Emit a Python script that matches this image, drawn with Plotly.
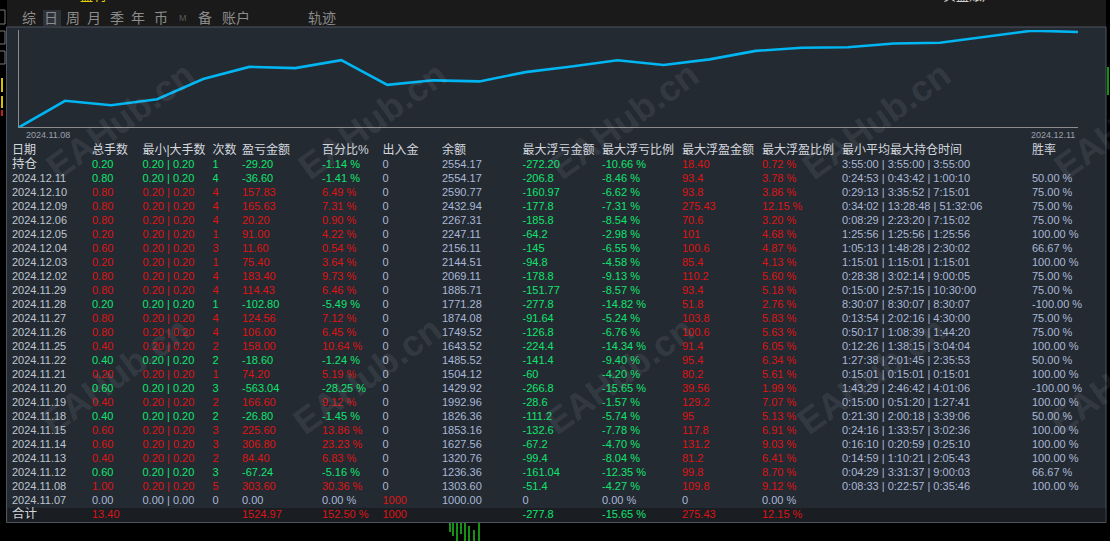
import plotly.graph_objects as go

W, H = 1110, 541

# ---------------- data ----------------
row_labels = ["持仓", "2024.12.11", "2024.12.10", "2024.12.09", "2024.12.06", "2024.12.05",
              "2024.12.04", "2024.12.03", "2024.12.02", "2024.11.29", "2024.11.28", "2024.11.27",
              "2024.11.26", "2024.11.25", "2024.11.22", "2024.11.21", "2024.11.20", "2024.11.19",
              "2024.11.18", "2024.11.15", "2024.11.14", "2024.11.13", "2024.11.12", "2024.11.08",
              "2024.11.07"]
lots = [0.20, 0.80, 0.80, 0.80, 0.80, 0.20, 0.60, 0.20, 0.80, 0.80, 0.20, 0.80, 0.80,
        0.40, 0.40, 0.20, 0.60, 0.40, 0.40, 0.60, 0.60, 0.40, 0.60, 1.00, 0.00]
min_lot = [0.20] * 24 + [0.00]
max_lot = [0.20] * 24 + [0.00]
trades = [1, 4, 4, 4, 4, 1, 3, 1, 4, 4, 1, 4, 4, 2, 2, 1, 3, 2, 2, 3, 3, 2, 3, 5, 0]
profit = [-29.20, -36.60, 157.83, 165.63, 20.20, 91.00, 11.60, 75.40, 183.40, 114.43,
          -102.80, 124.56, 106.00, 158.00, -18.60, 74.20, -563.04, 166.60, -26.80, 225.60,
          306.80, 84.40, -67.24, 303.60, 0.00]
pct = [-1.14, -1.41, 6.49, 7.31, 0.90, 4.22, 0.54, 3.64, 9.73, 6.46, -5.49, 7.12, 6.45,
       10.64, -1.24, 5.19, -28.25, 9.12, -1.45, 13.86, 23.23, 6.83, -5.16, 30.36, 0.00]
deposit = [0, 0, 0, 0, 0, 0, 0, 0, 0, 0, 0, 0, 0, 0, 0, 0, 0, 0, 0, 0, 0, 0, 0, 0, 1000]
balance = [2554.17, 2554.17, 2590.77, 2432.94, 2267.31, 2247.11, 2156.11, 2144.51, 2069.11,
           1885.71, 1771.28, 1874.08, 1749.52, 1643.52, 1485.52, 1504.12, 1429.92, 1992.96,
           1826.36, 1853.16, 1627.56, 1320.76, 1236.36, 1303.60, 1000.00]
float_loss = ["-272.20", "-206.8", "-160.97", "-177.8", "-185.8", "-64.2", "-145", "-94.8",
              "-178.8", "-151.77", "-277.8", "-91.64", "-126.8", "-224.4", "-141.4", "-60",
              "-266.8", "-28.6", "-111.2", "-132.6", "-67.2", "-99.4", "-161.04", "-51.4", "0"]
float_loss_pct = [-10.66, -8.46, -6.62, -7.31, -8.54, -2.98, -6.55, -4.58, -9.13, -8.57,
                  -14.82, -5.24, -6.76, -14.34, -9.40, -4.20, -15.65, -1.57, -5.74, -7.78,
                  -4.70, -8.04, -12.35, -4.27, 0.00]
float_profit = ["18.40", "93.4", "93.8", "275.43", "70.6", "101", "100.6", "85.4", "110.2",
                "93.4", "51.8", "103.8", "100.6", "91.4", "95.4", "80.2", "39.56", "129.2",
                "95", "117.8", "131.2", "81.2", "99.8", "109.8", "0"]
float_profit_pct = [0.72, 3.78, 3.86, 12.15, 3.20, 4.68, 4.87, 4.13, 5.60, 5.18, 2.76, 5.83,
                    5.63, 6.05, 6.34, 5.61, 1.99, 7.07, 5.13, 6.91, 9.03, 6.41, 8.70, 9.12, 0.00]
hold_min = ["3:55:00", "0:24:53", "0:29:13", "0:34:02", "0:08:29", "1:25:56", "1:05:13",
            "1:15:01", "0:28:38", "0:15:00", "8:30:07", "0:13:54", "0:50:17", "0:12:26",
            "1:27:38", "0:15:01", "1:43:29", "0:15:00", "0:21:30", "0:24:16", "0:16:10",
            "0:14:59", "0:04:29", "0:08:33", ""]
hold_avg = ["3:55:00", "0:43:42", "3:35:52", "13:28:48", "2:23:20", "1:25:56", "1:48:28",
            "1:15:01", "3:02:14", "2:57:15", "8:30:07", "2:02:16", "1:08:39", "1:38:15",
            "2:01:45", "0:15:01", "2:46:42", "0:51:20", "2:00:18", "1:33:57", "0:20:59",
            "1:10:21", "3:31:37", "0:22:57", ""]
hold_max = ["3:55:00", "1:00:10", "7:15:01", "51:32:06", "7:15:02", "1:25:56", "2:30:02",
            "1:15:01", "9:00:05", "10:30:00", "8:30:07", "4:30:00", "1:44:20", "3:04:04",
            "2:35:53", "0:15:01", "4:01:06", "1:27:41", "3:39:06", "3:02:36", "0:25:10",
            "2:05:43", "9:00:03", "0:35:46", ""]
win_rate = [None, 50.00, 75.00, 75.00, 75.00, 100.00, 66.67, 100.00, 75.00, 75.00, -100.00,
            75.00, 75.00, 100.00, 50.00, 100.00, -100.00, 100.00, 50.00, 100.00, 100.00,
            100.00, 66.67, 100.00, None]

total_label = "合计"
total_lots = 13.40
total_profit = 1524.97
total_pct = 152.50
total_deposit = 1000
total_float_loss = "-277.8"
total_float_loss_pct = -15.65
total_float_profit = "275.43"
total_float_profit_pct = 12.15

headers = ["日期", "总手数", "最小|大手数", "次数", "盈亏金额", "百分比%", "出入金", "余额",
           "最大浮亏金额", "最大浮亏比例", "最大浮盈金额", "最大浮盈比例", "最小平均最大持仓时间", "胜率"]

# equity track (cumulative percent per trading day)
curve_pct = [0.00, 30.36, 25.20, 32.03, 55.26, 69.12, 67.67, 76.79, 48.54, 53.73, 52.49,
             63.13, 69.58, 76.70, 71.21, 77.67, 87.40, 91.04, 91.58, 95.80, 96.70, 104.01,
             110.50, 109.09]
curve_start, curve_end = "2024.11.08", "2024.12.11"

tabs = ["综", "日", "周", "月", "季", "年", "币", "M", "备", "账户", "轨迹"]

# ---------------- styles ----------------
RED = "#de1414"
GREEN = "#10e46e"
BLUE = "#a9b8d6"
DATE = "#bfc5cf"
HEAD = "#d3d7de"
BG = "#242a32"
FONT = "Liberation Sans, Noto Sans CJK SC, sans-serif"

col_x = [12, 92, 142.5, 212.5, 242, 322, 382.5, 442, 522.5, 602, 682, 762, 842, 1032]
tab_x = [28.6, 51, 72.9, 94.3, 117, 138.4, 160.7, 182.5, 204.8, 235.7, 322.3]
row_y0, row_h = 165, 14


def px(x):
    return x / W


def py(y):
    return 1 - y / H


n = len(row_labels)
ys = [row_y0 + row_h * i for i in range(n)] + [row_y0 + row_h * n]
head_y = row_y0 - row_h


def sign_color(v):
    return RED if v > 0 else (GREEN if v < 0 else BLUE)


row_col = [sign_color(v) for v in profit]

fig = go.Figure()

# equity line
fig.add_trace(go.Scatter(
    x=list(range(len(curve_pct))), y=curve_pct, mode="lines",
    line=dict(color="#00b6f2", width=2.6), cliponaxis=False,
    hoverinfo="skip", showlegend=False, xaxis="x", yaxis="y"))


def add_col(x, texts, colors, sizes=11):
    fig.add_trace(go.Scatter(
        x=[x] * len(texts), y=ys[:len(texts)], mode="text", text=texts,
        textposition="middle right", cliponaxis=False,
        textfont=dict(family=FONT, size=sizes, color=colors),
        hoverinfo="skip", showlegend=False, xaxis="x2", yaxis="y2"))


# header
fig.add_trace(go.Scatter(
    x=col_x, y=[head_y] * len(headers), mode="text", text=headers,
    textposition="middle right", cliponaxis=False,
    textfont=dict(family=FONT, size=12, color=HEAD),
    hoverinfo="skip", showlegend=False, xaxis="x2", yaxis="y2"))

add_col(col_x[0], row_labels + [total_label],
        [HEAD] + [DATE] * (n - 1) + [HEAD],
        [12.5] + [11] * (n - 1) + [12.5])
add_col(col_x[1], [f"{v:.2f}" for v in lots] + [f"{total_lots:.2f}"], row_col + [RED])
add_col(col_x[2], [f"{a:.2f} | {b:.2f}" for a, b in zip(min_lot, max_lot)], row_col)
add_col(col_x[3], [str(v) for v in trades], row_col)
add_col(col_x[4], [f"{v:.2f}" for v in profit] + [f"{total_profit:.2f}"], row_col + [RED])
add_col(col_x[5], [f"{v:.2f} %" for v in pct] + [f"{total_pct:.2f} %"], row_col + [RED])
add_col(col_x[6], [str(v) for v in deposit] + [str(total_deposit)],
        [RED if v > 0 else BLUE for v in deposit] + [RED])
add_col(col_x[7], [f"{v:.2f}" for v in balance], [BLUE] * n)
add_col(col_x[8], float_loss + [total_float_loss],
        [BLUE if v == "0" else GREEN for v in float_loss] + [GREEN])
add_col(col_x[9], [f"{v:.2f} %" for v in float_loss_pct] + [f"{total_float_loss_pct:.2f} %"],
        [BLUE if v == 0 else GREEN for v in float_loss_pct] + [GREEN])
add_col(col_x[10], float_profit + [total_float_profit],
        [BLUE if v == "0" else RED for v in float_profit] + [RED])
add_col(col_x[11], [f"{v:.2f} %" for v in float_profit_pct] + [f"{total_float_profit_pct:.2f} %"],
        [BLUE if v == 0 else RED for v in float_profit_pct] + [RED])
add_col(col_x[12], [f"{a} | {b} | {c}" if a else "" for a, b, c in zip(hold_min, hold_avg, hold_max)],
        [BLUE] * n)
add_col(col_x[13], ["" if v is None else f"{v:.2f} %" for v in win_rate], [BLUE] * n)

# ---------------- background pieces ----------------
shapes = [
    dict(type="rect", x0=px(7), x1=px(1106), y0=py(0), y1=py(27), fillcolor="#1a1a1a", line_width=0),
    dict(type="rect", x0=px(6.5), x1=px(1106), y0=py(27), y1=py(522.5), fillcolor=BG,
         line=dict(color="#4e5561", width=1)),
    dict(type="rect", x0=px(7.5), x1=px(1105.5), y0=py(508), y1=py(522), fillcolor="#1a1d22", line_width=0),
    dict(type="rect", x0=px(43), x1=px(61), y0=py(10), y1=py(26), fillcolor="#2d323a", line_width=0),
]
for y0, y1 in [(10, 24), (31, 44), (51, 64)]:
    shapes.append(dict(type="rect", x0=px(-2), x1=px(5), y0=py(y0), y1=py(y1),
                       fillcolor="rgba(0,0,0,0)", line=dict(color="#7a7a7a", width=1)))
for y0, y1, c in [(78, 92, "#d8c000"), (96, 108, "#d8c000"), (110, 116, "#c02020")]:
    shapes.append(dict(type="line", x0=px(2), x1=px(2), y0=py(y0), y1=py(y1), line=dict(color=c, width=2)))
shapes.append(dict(type="line", x0=px(1108), x1=px(1108), y0=py(67), y1=py(95), line=dict(color="#18c018", width=1.5)))
for x, y0, y1 in [(450, 523, 532), (453, 523, 536), (457, 523, 541), (461, 523, 534),
                  (465, 523, 541), (469, 526, 541), (474, 530, 541), (479, 523, 541)]:
    shapes.append(dict(type="line", x0=px(x), x1=px(x), y0=py(y0), y1=py(y1),
                       line=dict(color="#22e022", width=1.3)))
for s in shapes:
    s.update(xref="paper", yref="paper", layer="below")

annotations = []
for t, x in zip(tabs, tab_x):
    annotations.append(dict(
        text=t, x=px(x), y=py(18.5), xref="paper", yref="paper", showarrow=False,
        xanchor="center", yanchor="middle",
        font=dict(family=FONT, size=9 if t == "M" else 14, color="#5a5a5a" if t == "M" else "#8c8c8c")))
annotations += [
    dict(text=curve_start, x=px(24), y=py(134.5), xanchor="left"),
    dict(text=curve_end, x=px(1077), y=py(134.5), xanchor="right"),
]
for a in annotations[-2:]:
    a.update(xref="paper", yref="paper", showarrow=False, yanchor="middle",
             font=dict(family=FONT, size=9, color="#9aa0a9"))
# labels of the window above, mostly hidden behind the top edge as in the screenshot
annotations += [
    dict(text="盈利", x=px(93), y=py(-4.5), xref="paper", yref="paper", showarrow=False,
         xanchor="center", yanchor="middle",
         font=dict(family=FONT, size=13, color="#e8d000")),
    dict(text="实盘账户", x=px(969), y=py(-4.5), xref="paper", yref="paper", showarrow=False,
         xanchor="center", yanchor="middle",
         font=dict(family=FONT, size=13, color="#d0d0d0")),
]
for cy, x0 in [(120, 120), (375, 115)]:
    for k in range(5):
        annotations.append(dict(
            text="<b>EAHub.cn</b>", x=px(x0 + 252 * k), y=py(cy), xref="paper", yref="paper",
            showarrow=False, textangle=-36, xanchor="center", yanchor="middle",
            font=dict(family="Liberation Sans, Arial", size=36, color="rgba(205,210,220,0.11)"),
            ))

y_top = (127.3 - 30) / (96.6 / 110.5)

fig.update_layout(
    width=W, height=H, margin=dict(l=0, r=0, t=0, b=0),
    paper_bgcolor="#000000", plot_bgcolor="rgba(0,0,0,0)",
    showlegend=False, shapes=shapes, annotations=annotations,
    xaxis=dict(domain=[px(19), px(1078)], range=[0, len(curve_pct) - 1], showgrid=False,
               zeroline=False, showticklabels=False, ticks="", showline=True,
               linecolor="#8c8c8c", linewidth=1, fixedrange=True),
    yaxis=dict(domain=[py(127.3), py(30)], range=[0, y_top], showgrid=False,
               zeroline=False, showticklabels=False, ticks="", showline=True,
               linecolor="#8c8c8c", linewidth=1, fixedrange=True),
    xaxis2=dict(domain=[0, 1], range=[0, W], visible=False, anchor="y2", fixedrange=True),
    yaxis2=dict(domain=[0, 1], range=[H, 0], visible=False, anchor="x2", fixedrange=True),
)

# the page body has a default 8px margin; drop it so the figure fills the window
fig.write_html("out.html", config={"displayModeBar": False},
               post_script="document.body.style.margin='0px';document.body.style.overflow='hidden';")
